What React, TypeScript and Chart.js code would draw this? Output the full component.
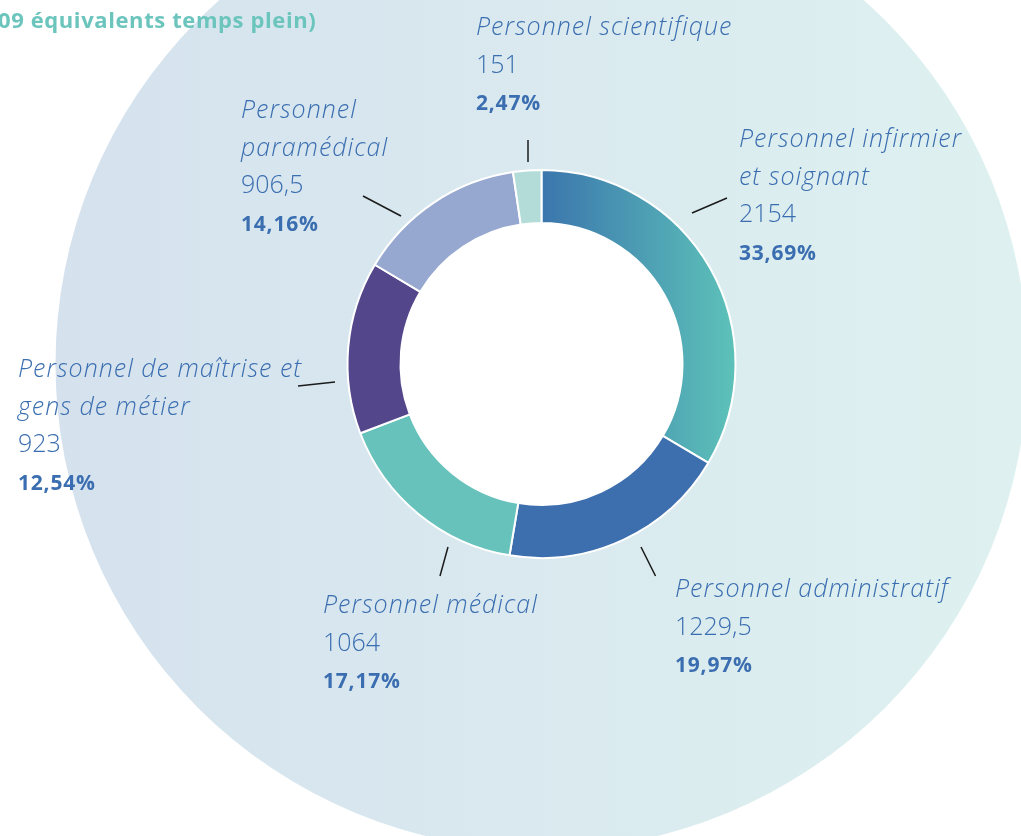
import React, { useEffect, useRef } from "react";
import { Chart, registerables } from "chart.js";

Chart.register(...registerables);

// ---- data ----
const categories: string[][] = [
  ["Personnel infirmier", "et soignant"],
  ["Personnel administratif"],
  ["Personnel médical"],
  ["Personnel de maîtrise et", "gens de métier"],
  ["Personnel", "paramédical"],
  ["Personnel scientifique"],
];
const values: number[] = [2154, 1229.5, 1064, 923, 906.5, 151];
const valueLabels: string[] = ["2154", "1229,5", "1064", "923", "906,5", "151"];
const percentLabels: string[] = ["33,69%", "19,97%", "17,17%", "12,54%", "14,16%", "2,47%"];
const titleText = "09 équivalents temps plein)";

// ---- styles / layout ----
const sliceColors = ["gradient", "#3d6fae", "#68c2bc", "#54468a", "#96a8cf", "#b3dcd8"];
const TEXT_COLOR = "#3b6eb0";
const FONT = '"Open Sans", "DejaVu Sans", sans-serif';
// offsets relative to the doughnut centre
const labelLayout = [
  { x: 197.5, y: -217, line: [[150.5, -151], [185.5, -166]] },
  { x: 133.5, y: 233, line: [[99.5, 183], [114, 212]] },
  { x: -218.5, y: 249, line: [[-93.5, 183], [-101.5, 212]] },
  { x: -523.5, y: 13, line: [[-243.5, 22], [-206.5, 18]] },
  { x: -300.5, y: -246, line: [[-178.5, -168], [-140.5, -148]] },
  { x: -65.5, y: -329, line: [[-13.5, -224], [-13.5, -202]] },
];
const LINE_H = 37.5;
const OUTER_R = 194;
const INNER_R = 141;

const bgPlugin = {
  id: "bgCircle",
  beforeDatasetsDraw(chart: any) {
    const arc = chart.getDatasetMeta(0).data[0];
    if (!arc) return;
    const { ctx } = chart;
    const R = 486;
    const g = ctx.createLinearGradient(arc.x - R, 0, arc.x + R, 0);
    g.addColorStop(0, "#d5e2ee");
    g.addColorStop(1, "#def1f0");
    ctx.save();
    ctx.fillStyle = g;
    ctx.beginPath();
    ctx.arc(arc.x, arc.y, R, 0, Math.PI * 2);
    ctx.fill();
    // white hole
    ctx.fillStyle = "#ffffff";
    ctx.beginPath();
    ctx.arc(arc.x, arc.y, INNER_R, 0, Math.PI * 2);
    ctx.fill();
    ctx.restore();
  },
};

const labelPlugin = {
  id: "labels",
  afterDraw(chart: any) {
    const meta = chart.getDatasetMeta(0);
    const arc0 = meta.data[0];
    if (!arc0) return;
    const cx = arc0.x;
    const cy = arc0.y;
    const { ctx } = chart;
    ctx.save();
    ctx.textBaseline = "alphabetic";
    ctx.textAlign = "left";
    // title
    ctx.fillStyle = "#6cc5bd";
    ctx.font = `700 22px ${FONT}`;
    (ctx as any).letterSpacing = "0.6px";
    ctx.fillText(titleText, -2, 28);

    meta.data.forEach((_: any, i: number) => {
      const L = labelLayout[i];
      // leader line
      ctx.strokeStyle = "#1b1b1b";
      ctx.lineWidth = 1.5;
      ctx.beginPath();
      ctx.moveTo(cx + L.line[0][0], cy + L.line[0][1]);
      ctx.lineTo(cx + L.line[1][0], cy + L.line[1][1]);
      ctx.stroke();
      // text
      ctx.fillStyle = TEXT_COLOR;
      let y = cy + L.y;
      const x = cx + L.x;
      ctx.font = `italic 300 25px ${FONT}`;
      (ctx as any).letterSpacing = "1px";
      categories[i].forEach((t) => {
        ctx.fillText(t, x, y);
        y += LINE_H;
      });
      ctx.font = `300 25px ${FONT}`;
      (ctx as any).letterSpacing = "0px";
      ctx.fillText(valueLabels[i], x, y);
      y += LINE_H;
      ctx.font = `700 21px ${FONT}`;
      (ctx as any).letterSpacing = "0.8px";
      ctx.fillText(percentLabels[i], x, y);
    });
    ctx.restore();
  },
};

export default function App() {
  const ref = useRef<HTMLCanvasElement>(null);
  useEffect(() => {
    document.body.style.margin = "0";
    const canvas = ref.current!;
    const chart = new Chart(canvas, {
      type: "doughnut",
      data: {
        labels: categories.map((c) => c.join(" ")),
        datasets: [
          {
            data: values,
            backgroundColor: (c: any) => {
              const col = sliceColors[c.dataIndex];
              if (col !== "gradient") return col;
              const area = c.chart.chartArea;
              if (!area) return "#4a98b3";
              const x0 = (area.left + area.right) / 2;
              const g = c.chart.ctx.createLinearGradient(x0, 0, x0 + OUTER_R, 0);
              g.addColorStop(0, "#3b76ad");
              g.addColorStop(1, "#5dc2b9");
              return g;
            },
            borderColor: "#ffffff",
            borderWidth: 2,
          },
        ],
      },
      options: {
        responsive: false,
        animation: false,
        radius: OUTER_R,
        cutout: `${(INNER_R / OUTER_R) * 100}%`,
        layout: { padding: { left: 62, right: 0, top: 0, bottom: 108 } },
        plugins: {
          legend: { display: false },
          tooltip: { enabled: false },
        },
      } as any,
      plugins: [bgPlugin, labelPlugin],
    });
    return () => chart.destroy();
  }, []);
  return (
    <div style={{ width: 1021, height: 836, background: "#ffffff" }}>
      <canvas ref={ref} width={1021} height={836} style={{ display: "block" }} />
    </div>
  );
}
